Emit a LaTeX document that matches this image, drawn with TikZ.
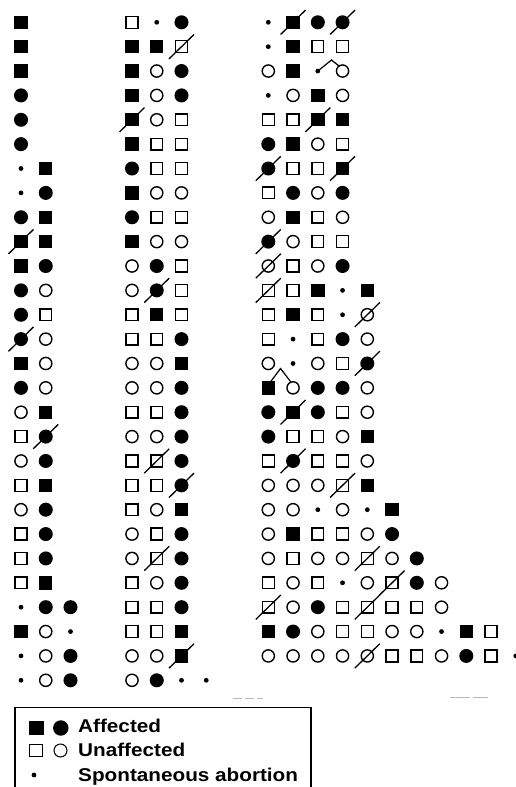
\documentclass[tikz,border=0pt]{standalone}
\usepackage{fontspec}
\setmainfont{Liberation Sans}
\usepackage{graphicx}
\def\slT{}\def\slR{}\def\slD{}\def\slP{}
\tikzset{
 sym/.style={inner sep=0pt, outer sep=0pt, line width=1.4pt, draw=black},
 symS/.style={sym, rectangle, fill=black, minimum size=12pt},
 symQ/.style={sym, rectangle, minimum size=11.8pt},
 symC/.style={sym, circle, fill=black, minimum size=12.6pt},
 symO/.style={sym, circle, minimum size=12.2pt},
 symd/.style={circle, fill=black, inner sep=0pt, outer sep=0pt, minimum size=4.8pt},
 symT/.style={symS}, symR/.style={symQ}, symD/.style={symC}, symP/.style={symO},
 slashline/.style={line width=1.3pt},
 twin/.style={line width=1.2pt},
 legbox/.style={line width=1.6pt},
 legtext/.style={anchor=base west, inner sep=0pt, font=\fontsize{18.5}{21}\selectfont\bfseries},
 artefact/.style={gray!55, line width=0.9pt},
}
\begin{document}
\begin{tikzpicture}[x=1pt,y=-1pt]
\useasboundingbox (0,0) rectangle (515,787);
% group 1
\foreach \row [count=\r] in {{S},{S},{S},{C},{C},{C},{d,S},{d,C},{C,S},{T,S},{S,C},{C,O},{C,Q},{D,O},{S,O},{C,O},{O,S},{Q,D},{O,C},{Q,S},{O,C},{Q,C},{Q,C},{Q,S},{d,C,C},{S,O,d},{d,O,C},{d,O,C}} {
  \foreach \t [count=\c] in \row {
    \node[sym\t] (n-1-\r-\c) at ({21+(\c-1)*24.75},{22.3+(\r-1)*24.37}) {};
    \ifcsname sl\t\endcsname \draw[slashline] (n-1-\r-\c.center) ++(-12.5,12.2) -- ++(25,-24.4); \fi
  }
}
% group 2
\foreach \row [count=\r] in {{Q,d,C},{S,S,R},{S,O,C},{S,O,C},{T,O,Q},{S,Q,Q},{C,Q,Q},{S,O,O},{C,Q,Q},{S,O,O},{O,C,Q},{O,D,Q},{Q,S,Q},{Q,Q,C},{O,O,S},{O,O,C},{Q,Q,C},{O,O,C},{Q,R,C},{Q,Q,D},{Q,O,S},{O,Q,C},{O,R,C},{Q,O,C},{Q,Q,C},{Q,Q,S},{O,O,T},{O,C,d,d}} {
  \foreach \t [count=\c] in \row {
    \node[sym\t] (n-2-\r-\c) at ({132+(\c-1)*24.75},{22.3+(\r-1)*24.37}) {};
    \ifcsname sl\t\endcsname \draw[slashline] (n-2-\r-\c.center) ++(-12.5,12.2) -- ++(25,-24.4); \fi
  }
}
% group 3
\foreach \row [count=\r] in {{d,T,C,D},{d,S,Q,Q},{O,S,d,O},{d,O,S,O},{Q,Q,T,S},{C,S,O,Q},{D,Q,Q,T},{Q,C,O,C},{O,S,Q,O},{D,O,Q,Q},{P,Q,O,C},{R,Q,S,d,S},{Q,S,Q,d,P},{Q,d,Q,C,O},{O,d,O,Q,D},{S,O,C,C,O},{C,T,C,Q,O},{C,Q,Q,O,S},{Q,D,Q,Q,O},{O,O,O,R,S},{O,O,d,O,d,S},{O,S,Q,Q,O,C},{O,Q,O,O,R,O,C},{Q,O,Q,d,O,R,C,O},{R,O,C,Q,R,Q,Q,O},{S,C,O,Q,Q,O,O,d,S,Q},{O,O,O,O,P,Q,Q,O,C,Q,d}} {
  \foreach \t [count=\c] in \row {
    \node[sym\t] (n-3-\r-\c) at ({268.3+(\c-1)*24.75},{22.3+(\r-1)*24.37}) {};
    \ifcsname sl\t\endcsname \draw[slashline] (n-3-\r-\c.center) ++(-12.5,12.2) -- ++(25,-24.4); \fi
  }
}
% twin connectors
\coordinate (tw1) at (331.5,60);
\draw[twin] (n-3-3-3.center) -- (tw1) -- (n-3-3-4.125);
\coordinate (tw2) at (280.5,368.5);
\draw[twin] (n-3-16-1.70) -- (tw2) -- (n-3-16-2.110);
% scan marks
\draw[artefact, dash pattern=on 9pt off 3pt] (233,698) -- (263,698);
\draw[artefact, dash pattern=on 20pt off 3pt] (450,697) -- (488,697);
% legend
\draw[legbox] (15,790) -- (15,707.5) -- (311,707.5) -- (311,790);
\node[symS, minimum size=13pt] (lfs) at (36.3,728) {};
\node[symC, minimum size=14pt] (lfc) at (60.8,728) {};
\node[symQ, minimum size=12.5pt, line width=1.2pt] (los) at (36,750.5) {};
\node[symO, minimum size=13pt, line width=1pt] (loc) at (60.5,750.5) {};
\node[symd] (ld) at (34,775) {};
\node[legtext] (t1) at (78,732.5) {\scalebox{1.12}[1]{Affected}};
\node[legtext] (t2) at (78,756.7) {\scalebox{1.12}[1]{Unaffected}};
\node[legtext] (t3) at (78,781) {\scalebox{1.12}[1]{Spontaneous abortion}};
\end{tikzpicture}
\end{document}
